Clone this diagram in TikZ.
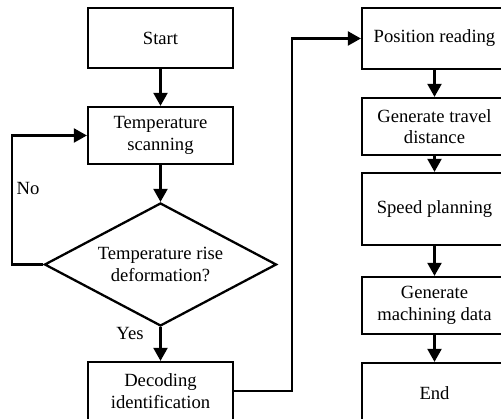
\documentclass[tikz,border=0pt]{standalone}
\usepackage{fontspec}
\setmainfont{Liberation Serif}
\usepackage{tikz}
\usetikzlibrary{shapes.geometric,arrows.meta}

\begin{document}
\begin{tikzpicture}[
    font=\fontsize{10.6}{12.3}\selectfont,
    box/.style={draw, line width=1.3pt, minimum width=2.9cm, align=center, inner sep=0pt},
    decision/.style={draw, line width=1.3pt, diamond, aspect=1.89, minimum width=4.64cm, minimum height=2.46cm, align=center, inner sep=0pt},
    arr/.style={line width=1.3pt, -{Triangle[length=0.26cm, width=0.28cm]}}
  ]
  \clip (0,0) rectangle (10.02,8.38);
  % left column
  \node[box, minimum height=1.2cm] (start) at (3.21,7.62) {Start};
  \node[box, minimum height=1.14cm] (scan) at (3.21,5.67) {Temperature\\scanning};
  \node[decision] (rise) at (3.21,3.09) {Temperature rise\\deformation?};
  \node[box, minimum height=1.16cm] (decode) at (3.21,0.56) {Decoding\\identification};
  % right column
  \node[box, minimum height=1.22cm] (pos) at (8.69,7.61) {Position reading};
  \node[box, minimum height=1.14cm] (travel) at (8.69,5.85) {Generate travel\\distance};
  \node[box, minimum height=1.44cm] (speed) at (8.69,4.2) {Speed planning};
  \node[box, minimum height=1.14cm] (mach) at (8.69,2.27) {Generate\\machining data};
  \node[box, minimum height=1.2cm] (end) at (8.69,0.52) {End};
  \coordinate (loop) at (0.24,5.67);
  \coordinate (jump) at (5.84,7.61);

  \draw[arr] (start) -- (scan);
  \draw[arr] (scan) -- (rise);
  \draw[arr] (rise) -- (decode);
  \draw[arr] (rise.west) -| (loop) -- (scan.west);
  \draw[arr] (decode.east) -| (jump) -- (pos.west);
  \draw[arr] (pos) -- (travel);
  \draw[arr] (travel) -- (speed);
  \draw[arr] (speed) -- (mach);
  \draw[arr] (mach) -- (end);

  \node (no) at (0.56,4.62) {No};
  \node (yes) at (2.6,1.72) {Yes};
\end{tikzpicture}
\end{document}
